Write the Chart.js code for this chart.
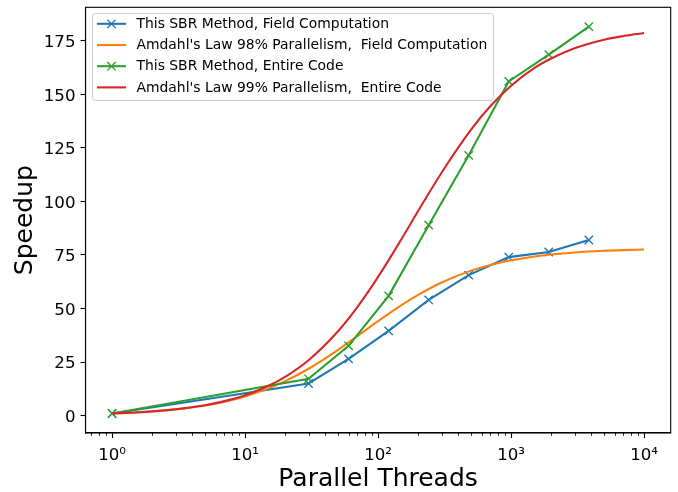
<!DOCTYPE html>
<html>
<head>
<meta charset="utf-8">
<script src="https://cdn.jsdelivr.net/npm/chart.js@4.4.1/dist/chart.umd.min.js"></script>
<style>
html, body { margin: 0; padding: 0; background: #fff; }
</style>
</head>
<body>
<canvas id="chart" width="678" height="492"></canvas>
<script>
// measured points
const threads = [1, 30, 60, 120, 240, 480, 960, 1920, 3840];
const sbrField = [1, 15, 26.5, 39.6, 54, 65.6, 74, 76.4, 82];
const sbrEntire = [1, 17.2, 32.6, 55.9, 88.9, 121.5, 156, 168.5, 181.6];

// Amdahl curves
const amdahlThreads = [1, 1.5, 2, 3, 5, 7, 10, 15, 20, 30, 50, 70, 100, 150, 200, 300, 500, 700, 1000, 1500, 2000, 3000, 5000, 7000, 10000];
const amdahl98 = [1, 1.49, 1.97, 2.92, 4.76, 6.5, 8.97, 12.72, 16.09, 21.88, 30.73, 37.17, 44.11, 51.6, 56.38, 62.15, 67.69, 70.37, 72.53, 74.31, 75.22, 76.17, 76.94, 77.27, 77.53];
const amdahl99 = [1, 1.5, 1.99, 2.97, 4.89, 6.78, 9.53, 13.93, 18.11, 25.87, 39.39, 50.74, 64.75, 82.44, 95.49, 113.4, 133.5, 144.5, 153.97, 162.3, 166.7, 171.5, 175.5, 177.2, 178.6];

const seriesNames = [
    "This SBR Method, Field Computation",
    "Amdahl's Law 98% Parallelism,  Field Computation",
    "This SBR Method, Entire Code",
    "Amdahl's Law 99% Parallelism,  Entire Code"
];
const seriesColors = ["#1f77b4", "#ff7f0e", "#2ca02c", "#d62728"];

const xTickValues = [1, 10, 100, 1000, 10000];
const xTickLabels = ["10⁰", "10¹", "10²", "10³", "10⁴"];
const yTickValues = [0, 25, 50, 75, 100, 125, 150, 175];

const FONT = "DejaVu Sans";
Chart.defaults.font.family = FONT;
Chart.defaults.color = "#000";

function pts(xs, ys) {
    return xs.map((x, i) => ({x: x, y: ys[i]}));
}

function markerSet(i, xs, ys, order) {
    return {
        label: seriesNames[i],
        data: pts(xs, ys),
        borderColor: seriesColors[i],
        backgroundColor: seriesColors[i],
        borderWidth: 2.08,
        pointStyle: "crossRot",
        pointRadius: 5.9,
        pointBorderWidth: 1.4,
        pointBorderColor: seriesColors[i],
        tension: 0,
        order: order
    };
}

function curveSet(i, xs, ys, order) {
    return {
        label: seriesNames[i],
        data: pts(xs, ys),
        borderColor: seriesColors[i],
        backgroundColor: seriesColors[i],
        borderWidth: 2.08,
        pointRadius: 0,
        cubicInterpolationMode: "monotone",
        order: order
    };
}

// top/right spines and log minor ticks
const framePlugin = {
    id: "frame",
    afterDraw(chart) {
        const ctx = chart.ctx;
        const a = chart.chartArea;
        const xs = chart.scales.x;
        ctx.save();
        ctx.strokeStyle = "#000";
        ctx.lineWidth = 1.1;
        ctx.strokeRect(a.left, a.top, a.right - a.left, a.bottom - a.top);

        ctx.lineWidth = 0.83;
        ctx.beginPath();
        for (let k = -1; k <= 4; k++) {
            for (let m = 2; m <= 9; m++) {
                const v = m * Math.pow(10, k);
                if (v < xs.min || v > xs.max) continue;
                const px = Math.round(xs.getPixelForValue(v)) + 0.5;
                ctx.moveTo(px, a.bottom);
                ctx.lineTo(px, a.bottom + 2.8);
            }
        }
        ctx.stroke();
        ctx.restore();
    }
};

// matplotlib style legend box in the upper left
const legendPlugin = {
    id: "mplLegend",
    afterDraw(chart) {
        const ctx = chart.ctx;
        const x0 = 92, y0 = 13, w = 401, h = 87, r = 3;
        ctx.save();
        ctx.beginPath();
        ctx.roundRect(x0 + 0.5, y0 + 0.5, w, h, r);
        ctx.fillStyle = "rgba(255,255,255,0.8)";
        ctx.fill();
        ctx.strokeStyle = "#cccccc";
        ctx.lineWidth = 1;
        ctx.stroke();

        ctx.font = "13.9px '" + FONT + "'";
        ctx.textBaseline = "middle";
        ctx.textAlign = "left";
        const ds = chart.data.datasets;
        for (let i = 0; i < ds.length; i++) {
            const cy = 23.8 + i * 21.2;
            ctx.strokeStyle = ds[i].borderColor;
            ctx.lineWidth = 2.08;
            ctx.beginPath();
            ctx.moveTo(97, cy);
            ctx.lineTo(126, cy);
            ctx.stroke();
            if (ds[i].pointRadius > 0) {
                const d = 4.17;
                ctx.lineWidth = 1.4;
                ctx.beginPath();
                ctx.moveTo(111.5 - d, cy - d);
                ctx.lineTo(111.5 + d, cy + d);
                ctx.moveTo(111.5 + d, cy - d);
                ctx.lineTo(111.5 - d, cy + d);
                ctx.stroke();
            }
            ctx.fillStyle = "#000";
            ctx.fillText(ds[i].label, 136.5, cy + 0.5);
        }
        ctx.restore();
    }
};

const tickFont = {family: FONT, size: 16.67};
const axisGrid = {drawOnChartArea: false, drawTicks: true, tickLength: 5, tickWidth: 1.1, tickColor: "#000"};

new Chart("chart", {
    type: "line",
    data: {
        datasets: [
            markerSet(0, threads, sbrField, 3),
            curveSet(1, amdahlThreads, amdahl98, 2),
            markerSet(2, threads, sbrEntire, 1),
            curveSet(3, amdahlThreads, amdahl99, 0)
        ]
    },
    options: {
        responsive: false,
        animation: false,
        events: [],
        layout: {padding: {top: 6, right: 6.5, left: 0, bottom: 0}},
        plugins: {
            legend: {display: false},
            tooltip: {enabled: false}
        },
        scales: {
            x: {
                type: "logarithmic",
                bounds: "data",
                min: 0.631,
                max: 15849,
                afterBuildTicks: s => { s.ticks = xTickValues.map(v => ({value: v})); },
                afterFit: s => {
                    s.height = 59;
                    s.paddingLeft = 0;
                    s.paddingRight = 0;
                },
                ticks: {
                    font: tickFont,
                    color: "#000",
                    padding: 8,
                    maxRotation: 0,
                    autoSkip: false,
                    callback: v => xTickLabels[xTickValues.indexOf(v)]
                },
                grid: axisGrid,
                border: {color: "#000", width: 1.1},
                title: {
                    display: true,
                    text: "Parallel Threads",
                    font: {family: FONT, size: 25, lineHeight: 1},
                    color: "#000",
                    padding: 0
                }
            },
            y: {
                bounds: "data",
                min: -8.1,
                max: 190.6,
                afterBuildTicks: s => { s.ticks = yTickValues.map(v => ({value: v})); },
                afterFit: s => {
                    s.width = 85.5;
                    s.paddingTop = 0;
                    s.paddingBottom = 0;
                },
                ticks: {
                    font: tickFont,
                    color: "#000",
                    padding: 5,
                    labelOffset: 2
                },
                grid: axisGrid,
                border: {color: "#000", width: 1.1},
                title: {
                    display: true,
                    text: "Speedup",
                    font: {family: FONT, size: 25, lineHeight: 1},
                    color: "#000",
                    padding: {top: 13, bottom: 0}
                }
            }
        }
    },
    plugins: [framePlugin, legendPlugin]
});
</script>
</body>
</html>
